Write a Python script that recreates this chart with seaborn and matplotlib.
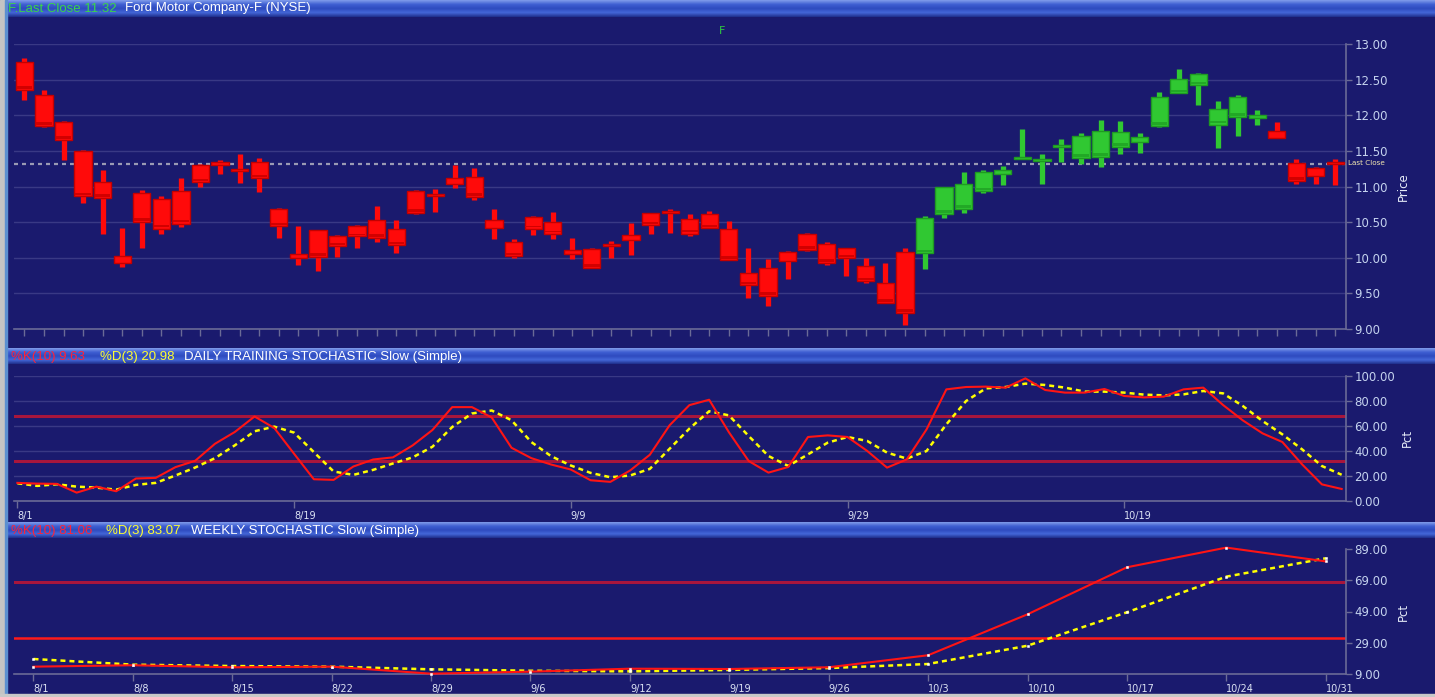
import numpy as np
import matplotlib
matplotlib.use("Agg")
import matplotlib.pyplot as plt
from matplotlib.patches import Rectangle
from matplotlib.colors import LinearSegmentedColormap
from matplotlib.ticker import FormatStrFormatter
import seaborn as sns

W, H = 1435, 697

# ---- daily candles (68 sessions) ----
opens = [12.75, 12.28, 11.91, 11.50, 11.06, 10.03, 10.91, 10.83, 10.94, 11.30,
         11.34, 11.24, 11.34, 10.68, 10.05, 10.39, 10.31, 10.45, 10.53, 10.40,
         10.93, 10.88, 11.12, 11.14, 10.53, 10.22, 10.57, 10.50, 10.11, 10.12,
         10.17, 10.32, 10.63, 10.64, 10.55, 10.61, 10.41, 9.79, 9.86, 10.08,
         10.33, 10.19, 10.14, 9.89, 9.64, 10.08, 10.06, 10.62, 10.69, 10.93,
         11.17, 11.39, 11.36, 11.55, 11.40, 11.41, 11.56, 11.63, 11.85, 12.31,
         12.43, 11.87, 11.97, 11.96, 11.78, 11.33, 11.26, 11.35]
closes = [12.35, 11.85, 11.65, 10.86, 10.84, 9.93, 10.50, 10.41, 10.48, 11.06,
          11.30, 11.22, 11.12, 10.44, 9.99, 10.01, 10.17, 10.30, 10.28, 10.18,
          10.63, 10.86, 11.03, 10.85, 10.42, 10.02, 10.41, 10.34, 10.05, 9.86,
          10.16, 10.25, 10.46, 10.63, 10.34, 10.42, 9.97, 9.62, 9.46, 9.96,
          10.11, 9.93, 10.00, 9.67, 9.37, 9.23, 10.56, 10.99, 11.04, 11.21,
          11.23, 11.41, 11.38, 11.56, 11.71, 11.78, 11.77, 11.70, 12.26, 12.51,
          12.58, 12.09, 12.26, 12.00, 11.68, 11.08, 11.15, 11.32]
highs = [12.81, 12.35, 11.92, 11.51, 11.23, 10.42, 10.95, 10.87, 11.12, 11.31,
         11.37, 11.45, 11.40, 10.70, 10.45, 10.39, 10.32, 10.46, 10.72, 10.53,
         10.95, 10.96, 11.30, 11.26, 10.68, 10.27, 10.58, 10.64, 10.28, 10.14,
         10.23, 10.49, 10.63, 10.69, 10.62, 10.65, 10.51, 10.14, 9.98, 10.09,
         10.35, 10.22, 10.14, 10.00, 9.92, 10.13, 10.59, 11.00, 11.20, 11.23,
         11.29, 11.81, 11.46, 11.67, 11.75, 11.93, 11.92, 11.75, 12.33, 12.65,
         12.59, 12.20, 12.29, 12.07, 11.91, 11.39, 11.28, 11.39]
lows = [12.22, 11.83, 11.37, 10.77, 10.33, 9.87, 10.13, 10.33, 10.43, 11.00,
        11.17, 11.05, 10.92, 10.28, 9.90, 9.81, 10.01, 10.13, 10.22, 10.06,
        10.61, 10.64, 10.98, 10.81, 10.26, 10.00, 10.32, 10.27, 9.98, 9.85,
        10.00, 10.04, 10.33, 10.35, 10.30, 10.42, 9.97, 9.44, 9.32, 9.70,
        10.09, 9.90, 9.75, 9.65, 9.37, 9.05, 9.84, 10.56, 10.63, 10.91,
        11.02, 11.39, 11.04, 11.34, 11.32, 11.27, 11.46, 11.47, 11.84, 12.31,
        12.14, 11.54, 11.71, 11.86, 11.68, 11.03, 11.04, 11.02]
last_close = 11.32
price_ticks = [9.0, 9.5, 10.0, 10.5, 11.0, 11.5, 12.0, 12.5, 13.0]

# ---- daily stochastic ----
k_daily = [14.5, 13.9, 13.7, 6.7, 11.5, 7.8, 18.0, 18.5, 27.1, 32.2,
           45.8, 55.2, 67.6, 58.4, 37.8, 17.4, 16.9, 27.6, 33.2, 34.9,
           44.5, 56.8, 75.1, 75.1, 66.8, 42.6, 34.3, 29.2, 25.2, 16.6,
           15.3, 24.4, 37.0, 60.6, 76.7, 81.0, 55.0, 32.0, 22.7, 27.2,
           51.2, 52.5, 51.2, 40.0, 26.7, 33.3, 57.3, 89.3, 91.2, 91.5,
           90.7, 98.1, 88.8, 86.7, 86.7, 89.6, 84.0, 82.9, 83.5, 89.3,
           90.7, 76.8, 64.5, 54.1, 47.2, 29.3, 13.3, 9.63]
d_daily = [14.2, 12.1, 13.4, 11.5, 10.7, 9.1, 12.9, 14.5, 20.4, 26.8,
           34.3, 44.5, 55.8, 59.5, 54.7, 39.1, 23.6, 20.9, 24.9, 30.0,
           34.9, 43.4, 59.2, 70.0, 72.4, 64.6, 47.2, 35.9, 28.4, 22.5,
           19.0, 20.4, 25.7, 41.8, 57.9, 71.8, 68.5, 52.0, 36.0, 28.0,
           37.3, 46.7, 51.2, 48.0, 38.7, 33.9, 40.0, 61.3, 80.0, 90.1,
           91.2, 93.9, 92.8, 90.7, 87.5, 87.5, 86.7, 85.1, 84.5, 85.3,
           88.0, 86.1, 76.0, 64.0, 53.3, 41.3, 28.0, 20.98]
daily_tick_idx = [0, 14, 28, 42, 56]
daily_tick_labels = ["8/1", "8/19", "9/9", "9/29", "10/19"]
daily_ticks = [0, 20, 40, 60, 80, 100]

# ---- weekly stochastic ----
week_labels = ["8/1", "8/8", "8/15", "8/22", "8/29", "9/6", "9/12", "9/19",
               "9/26", "10/3", "10/10", "10/17", "10/24", "10/31"]
k_weekly = [13.7, 14.6, 13.3, 13.7, 9.2, 10.5, 12.4, 12.2, 13.3, 21.0,
            47.2, 77.3, 89.9, 81.06]
d_weekly = [18.6, 15.0, 14.1, 13.7, 12.0, 11.1, 10.7, 11.6, 12.8, 15.4,
            27.1, 48.5, 71.3, 83.07]
weekly_ticks = [9, 29, 49, 69, 89]
overbought, oversold = 68, 32

NAVY = "#1a1a6e"
GRID = "#393985"
SPINE = "#6a6a96"
TICKLBL = "#c4d2ee"
RED, RED_DK = "#ff0a0a", "#c40000"
GREEN, GREEN_DK = "#30c832", "#1f9a22"

plt.rcParams["font.family"] = ["DejaVu Sans"]

fig = plt.figure(figsize=(W / 100, H / 100), dpi=100)
fig.patch.set_facecolor(NAVY)


def box(x0, y0, x1, y1):
    return [x0 / W, 1 - y1 / H, (x1 - x0) / W, (y1 - y0) / H]


# background layer in pixel coordinates: frame, header bars, titles
bg = fig.add_axes([0, 0, 1, 1], zorder=-1)
bg.axis("off")
bar_cmap = LinearSegmentedColormap.from_list(
    "bar", ["#7f9bea", "#3f5fd2", "#2e4bbf", "#4467d8", "#1f2f8c"])
grad = np.linspace(0, 1, 40).reshape(-1, 1)
for y0, y1 in [(0, 17), (348, 364), (522, 538)]:
    bg.imshow(grad, extent=(7, W, y1, y0), aspect="auto", cmap=bar_cmap,
              interpolation="bilinear")
bg.add_patch(Rectangle((0, 0), 5, H, color="#c4c4c4"))
bg.add_patch(Rectangle((5, 0), 2, H, color="#5b8fd0"))
bg.add_patch(Rectangle((0, 694), W, 3, color="#c8c8c8"))
bg.set_xlim(0, W)
bg.set_ylim(H, 0)

hfont = dict(family=["Liberation Sans", "DejaVu Sans"], fontsize=9.5, va="center")
bg.text(8, 8.5, "F.Last Close 11.32", color="#3ad44a", **hfont)
bg.text(125, 8.5, "Ford Motor Company-F (NYSE)", color="white", **hfont)
bg.text(11, 357, "%K(10) 9.63", color="#ff2238", **hfont)
bg.text(100, 357, "%D(3) 20.98", color="#ffff30", **hfont)
bg.text(184, 357, "DAILY TRAINING STOCHASTIC Slow (Simple)", color="white", **hfont)
bg.text(11, 531, "%K(10) 81.06", color="#ff2238", **hfont)
bg.text(106, 531, "%D(3) 83.07", color="#ffff30", **hfont)
bg.text(191, 531, "WEEKLY STOCHASTIC Slow (Simple)", color="white", **hfont)
bg.text(722, 31, "F", color="#2ecc40", fontsize=8, ha="center", va="center")
bg.text(1348, 163, "Last Close", color="#f2e6b0", fontsize=5.2, va="center")
for x, y, name in [(1403, 187, "Price"), (1407, 438, "Pct"), (1403, 612, "Pct")]:
    bg.text(x, y, name, rotation=90, color="#e6ecf8", fontsize=8.5,
            ha="center", va="center")


def style(ax, ticks, fmt="%.2f"):
    ax.set_facecolor("none")
    for s in ["top", "left"]:
        ax.spines[s].set_visible(False)
    for s in ["bottom", "right"]:
        ax.spines[s].set_color(SPINE)
        ax.spines[s].set_linewidth(1.2)
    ax.yaxis.tick_right()
    ax.set_yticks(ticks)
    ax.yaxis.set_major_formatter(FormatStrFormatter(fmt))
    ax.tick_params(axis="y", length=4, width=1, color=SPINE,
                   labelcolor=TICKLBL, labelsize=8.5, pad=2)
    ax.tick_params(axis="x", length=5, width=1, color=SPINE,
                   labelcolor="#dde4f4", labelsize=7, pad=2)
    ax.set_xlabel("")
    ax.set_ylabel("")


# ---- price panel ----
ax_p = fig.add_axes(box(14, 44, 1346, 329))
idx = np.arange(len(opens))
o, c = np.array(opens), np.array(closes)
up = c >= o
face = np.where(up, GREEN, RED)
edge = np.where(up, GREEN_DK, RED_DK)
body_lo = np.minimum(o, c)
body_h = np.maximum(np.abs(c - o), 0.03)
ax_p.vlines(idx, lows, highs, colors=face, lw=3.8, zorder=3)
ax_p.bar(idx, body_h, bottom=body_lo, width=0.88, color=face,
         edgecolor=edge, lw=1, zorder=4)
shade = np.where(body_h > 0.12, np.minimum(body_h * 0.15, 0.04), 0)
ax_p.bar(idx, shade, bottom=body_lo + 0.015, width=0.8,
         color=np.where(up, "#22a826", "#d20000"), lw=0, zorder=5)
ax_p.axhline(last_close, color="#9a9ab4", lw=1.6, dashes=(1.8, 1.8), zorder=2)
ax_p.set_ylim(9, 13)
ax_p.set_xlim(-0.53, 67.54)
style(ax_p, price_ticks)
ax_p.grid(axis="y", color=GRID, lw=1)
ax_p.set_axisbelow(True)
ax_p.set_xticks(idx)
ax_p.set_xticklabels([])

# ---- daily stochastic panel ----
ax_d = fig.add_axes(box(14, 376, 1346, 501))
didx = np.arange(len(k_daily))
for lvl in (overbought, oversold):
    ax_d.axhline(lvl, color="#a8163c", lw=2.2, zorder=2)
sns.lineplot(x=didx, y=d_daily, ax=ax_d, color="#ffff00", lw=1.8,
             linestyle=(0, (2, 1.6)), zorder=3)
sns.lineplot(x=didx, y=k_daily, ax=ax_d, color="#ff1414", lw=1.5, zorder=4)
ax_d.set_ylim(0, 100)
ax_d.set_xlim(-0.17, 67.22)
style(ax_d, daily_ticks)
ax_d.grid(axis="y", color=GRID, lw=1)
ax_d.set_axisbelow(True)
ax_d.set_xticks(daily_tick_idx)
ax_d.set_xticklabels(daily_tick_labels, ha="left")

# ---- weekly stochastic panel ----
ax_w = fig.add_axes(box(14, 549, 1346, 674))
widx = np.arange(len(week_labels))
ax_w.axhline(overbought, color="#a8163c", lw=2.2, zorder=2)
ax_w.axhline(oversold, color="#ff1a1a", lw=1.8, zorder=2)
sns.lineplot(x=widx, y=d_weekly, ax=ax_w, color="#ffff00", lw=1.8,
             linestyle=(0, (2, 1.6)), marker="s", markersize=1.4,
             markerfacecolor="white", markeredgecolor="white",
             markeredgewidth=0.4, zorder=3, clip_on=False)
sns.lineplot(x=widx, y=k_weekly, ax=ax_w, color="#ff1414", lw=1.5,
             marker="s", markersize=1.4, markerfacecolor="white",
             markeredgecolor="white", markeredgewidth=0.4, zorder=4,
             clip_on=False)
ax_w.set_ylim(9, 89)
ax_w.set_xlim(-0.196, 13.204)
style(ax_w, weekly_ticks)
ax_w.set_xticks(widx)
ax_w.set_xticklabels(week_labels, ha="left")

fig.savefig("out.png", dpi=100, facecolor=fig.get_facecolor())
